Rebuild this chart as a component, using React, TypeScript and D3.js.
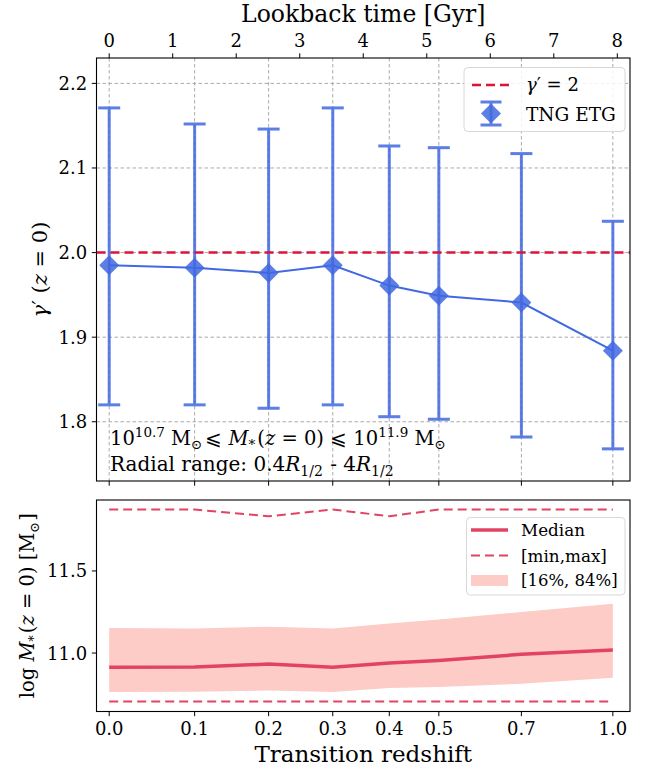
import React from "react";
import * as d3 from "d3";

const REDSHIFT_LABELS = ["0.0", "0.1", "0.2", "0.3", "0.4", "0.5", "0.7", "1.0"];
const LOOKBACK = [0, 1.345, 2.51, 3.52, 4.41, 5.19, 6.49, 7.93];
const LOOKBACK_TICKS = [0, 1, 2, 3, 4, 5, 6, 7, 8];
const GAMMA = [1.985, 1.982, 1.976, 1.985, 1.961, 1.949, 1.941, 1.884];
const GAMMA_HI = [2.171, 2.152, 2.146, 2.171, 2.126, 2.124, 2.117, 2.037];
const GAMMA_LO = [1.82, 1.82, 1.816, 1.82, 1.806, 1.803, 1.782, 1.768];
const GAMMA_TICKS = [1.8, 1.9, 2.0, 2.1, 2.2];
const MEDIAN = [10.913, 10.915, 10.933, 10.913, 10.939, 10.955, 10.992, 11.018];
const P16 = [10.762, 10.764, 10.772, 10.762, 10.787, 10.793, 10.813, 10.85];
const P84 = [11.152, 11.15, 11.16, 11.15, 11.18, 11.205, 11.25, 11.3];
const MMAX = [11.874, 11.874, 11.833, 11.874, 11.833, 11.874, 11.874, 11.874];
const MMIN = [10.705, 10.705, 10.705, 10.705, 10.705, 10.705, 10.705, 10.705];
const MASS_TICKS = [11.0, 11.5];

const SERIF = "'DejaVu Serif', serif";
const BLUE = "#4169e1";
const RED = "crimson";
const PINK = "#e34363";
const BAND = "#fdccc6";
const W = 656;
const H = 767;

export default function App() {
  const L = 96.5, R = 630;
  const T1 = 58, B1 = 481, T2 = 500, B2 = 711.5;
  const x = d3.scaleLinear().domain([-0.2, 8.2]).range([L, R]);
  const yT = d3.scaleLinear().domain([1.73, 2.23]).range([B1, T1]);
  const yB = d3.scaleLinear().domain([10.644, 11.932]).range([B2, T2]);

  const gLine = d3.line<number>().x((_, i) => x(LOOKBACK[i])).y((d) => yT(d));
  const mLine = d3.line<number>().x((_, i) => x(LOOKBACK[i])).y((d) => yB(d));
  const band = d3
    .area<number>()
    .x((_, i) => x(LOOKBACK[i]))
    .y0((_, i) => yB(P16[i]))
    .y1((d) => yB(d));

  const diamond = (cx: number, cy: number, r: number) =>
    `M${cx},${cy - r}L${cx + r},${cy}L${cx},${cy + r}L${cx - r},${cy}Z`;

  const cap = 11;
  const TK = 4.7;
  const TF = 18;

  return (
    <svg
      width={W}
      height={H}
      style={{ position: "absolute", left: 0, top: 0, background: "white" }}
      fontFamily={SERIF}
    >
      <rect x={0} y={0} width={W} height={H} fill="white" />
      {/* ===== Top panel ===== */}
      <g>
        {LOOKBACK.map((t, i) => (
          <line key={"gv" + i} x1={x(t)} x2={x(t)} y1={T1} y2={B1} stroke="#a0a0a0" strokeWidth={0.9} strokeDasharray="3.5,2.5" />
        ))}
        {GAMMA_TICKS.map((g, i) => (
          <line key={"gh" + i} x1={L} x2={R} y1={yT(g)} y2={yT(g)} stroke="#a0a0a0" strokeWidth={0.9} strokeDasharray="3.5,2.5" />
        ))}
        {LOOKBACK.map((t, i) => (
          <g key={"eb" + i} stroke={BLUE} strokeWidth={3} opacity={0.85}>
            <line x1={x(t)} x2={x(t)} y1={yT(GAMMA_LO[i])} y2={yT(GAMMA_HI[i])} />
            <line x1={x(t) - cap} x2={x(t) + cap} y1={yT(GAMMA_LO[i])} y2={yT(GAMMA_LO[i])} />
            <line x1={x(t) - cap} x2={x(t) + cap} y1={yT(GAMMA_HI[i])} y2={yT(GAMMA_HI[i])} />
          </g>
        ))}
        <path d={gLine(GAMMA) || ""} fill="none" stroke={BLUE} strokeWidth={2} />
        {LOOKBACK.map((t, i) => (
          <path key={"mk" + i} d={diamond(x(t), yT(GAMMA[i]), 10)} fill={BLUE} opacity={0.85} />
        ))}
        <line x1={L} x2={R} y1={yT(2)} y2={yT(2)} stroke={RED} strokeWidth={2.5} strokeDasharray="9,5" />
        <rect x={L} y={T1} width={R - L} height={B1 - T1} fill="none" stroke="black" strokeWidth={1.1} />
        {LOOKBACK_TICKS.map((t) => (
          <g key={"tt" + t}>
            <line x1={x(t)} x2={x(t)} y1={T1} y2={T1 - TK} stroke="black" strokeWidth={1} />
            <text x={x(t)} y={46.5} textAnchor="middle" fontSize={TF}>{t}</text>
          </g>
        ))}
        <text x={(L + R) / 2} y={22} textAnchor="middle" fontSize={23.5}>Lookback time [Gyr]</text>
        {LOOKBACK.map((t, i) => (
          <line key={"tb" + i} x1={x(t)} x2={x(t)} y1={B1} y2={B1 + TK} stroke="black" strokeWidth={1} />
        ))}
        {GAMMA_TICKS.map((g) => (
          <g key={"ly" + g}>
            <line x1={L} x2={L - TK} y1={yT(g)} y2={yT(g)} stroke="black" strokeWidth={1} />
            <text x={L - 9.4} y={yT(g)} dy="0.36em" textAnchor="end" fontSize={TF}>{g.toFixed(1)}</text>
          </g>
        ))}
        <text transform={`translate(47,${(T1 + B1) / 2}) rotate(-90)`} textAnchor="middle" fontSize={21}>
          <tspan fontStyle="italic">γ</tspan>
          <tspan>′ (</tspan>
          <tspan fontStyle="italic">z</tspan>
          <tspan> = 0)</tspan>
        </text>
        {/* annotation */}
        <text x={110} y={445} fontSize={19.5}>
          <tspan>10</tspan>
          <tspan fontSize={13.5} dy={-8}>10.7</tspan>
          <tspan dy={8}> M</tspan>
          <tspan fontSize={13.5} dy={3.5}>⊙</tspan>
          <tspan dy={-3.5} dx={3}>⩽ </tspan>
          <tspan fontStyle="italic">M</tspan>
          <tspan fontSize={13.5} dy={3.5}>*</tspan>
          <tspan dy={-3.5} dx={2}>(</tspan>
          <tspan fontStyle="italic">z</tspan>
          <tspan> = 0) ⩽ 10</tspan>
          <tspan fontSize={13.5} dy={-8}>11.9</tspan>
          <tspan dy={8}> M</tspan>
          <tspan fontSize={13.5} dy={3.5}>⊙</tspan>
        </text>
        <text x={110} y={470.5} fontSize={20}>
          <tspan>Radial range: 0.4</tspan>
          <tspan fontStyle="italic">R</tspan>
          <tspan fontSize={14} dy={5}>1/2</tspan>
          <tspan dy={-5} dx={1}> - 4</tspan>
          <tspan fontStyle="italic">R</tspan>
          <tspan fontSize={14} dy={5}>1/2</tspan>
        </text>
        {/* legend */}
        <g>
          <rect x={464} y={67.5} width={161} height={64} rx={4} fill="white" fillOpacity={0.85} stroke="#d8d8d8" strokeWidth={1} />
          <line x1={472} x2={510} y1={85} y2={85} stroke={RED} strokeWidth={2.5} strokeDasharray="9,5" />
          <text x={526} y={85} dy="0.36em" fontSize={18}>
            <tspan fontStyle="italic">γ</tspan>
            <tspan>′ = 2</tspan>
          </text>
          <g stroke={BLUE} strokeWidth={3} opacity={0.85}>
            <line x1={491} x2={491} y1={102} y2={125} />
            <line x1={480.5} x2={501.5} y1={102} y2={102} />
            <line x1={480.5} x2={501.5} y1={125} y2={125} />
          </g>
          <path d={diamond(491, 113.5, 10)} fill={BLUE} opacity={0.85} />
          <text x={526} y={114} dy="0.36em" fontSize={18.5}>TNG ETG</text>
        </g>
      </g>

      {/* ===== Bottom panel ===== */}
      <g>
        <path d={band(P84) || ""} fill={BAND} />
        <path d={mLine(MEDIAN) || ""} fill="none" stroke={PINK} strokeWidth={3.5} />
        <path d={mLine(MMAX) || ""} fill="none" stroke={PINK} strokeWidth={2} strokeDasharray="9,5" />
        <path d={mLine(MMIN) || ""} fill="none" stroke={PINK} strokeWidth={2} strokeDasharray="9,5" />
        <rect x={L} y={T2} width={R - L} height={B2 - T2} fill="none" stroke="black" strokeWidth={1.1} />
        {LOOKBACK.map((t, i) => (
          <g key={"bx" + i}>
            <line x1={x(t)} x2={x(t)} y1={B2} y2={B2 + TK} stroke="black" strokeWidth={1} />
            <text x={x(t)} y={735} textAnchor="middle" fontSize={TF}>{REDSHIFT_LABELS[i]}</text>
          </g>
        ))}
        {MASS_TICKS.map((m) => (
          <g key={"my" + m}>
            <line x1={L} x2={L - TK} y1={yB(m)} y2={yB(m)} stroke="black" strokeWidth={1} />
            <text x={L - 9.4} y={yB(m)} dy="0.36em" textAnchor="end" fontSize={TF}>{m.toFixed(1)}</text>
          </g>
        ))}
        <text x={(L + R) / 2} y={761.5} textAnchor="middle" fontSize={23}>Transition redshift</text>
        <text transform={`translate(34,${(T2 + B2) / 2}) rotate(-90)`} textAnchor="middle" fontSize={19.5}>
          <tspan>log </tspan>
          <tspan fontStyle="italic">M</tspan>
          <tspan fontSize={13} dy={4}>*</tspan>
          <tspan dy={-4} dx={2}>(</tspan>
          <tspan fontStyle="italic">z</tspan>
          <tspan> = 0) [M</tspan>
          <tspan fontSize={13} dy={5}>⊙</tspan>
          <tspan dy={-5} dx={1}>]</tspan>
        </text>
        <g>
          <rect x={466.5} y={517.5} width={158.5} height={77.5} rx={4} fill="white" fillOpacity={0.85} stroke="#d8d8d8" strokeWidth={1} />
          <line x1={471} x2={508} y1={530} y2={530} stroke={PINK} strokeWidth={3.5} />
          <text x={521} y={530} dy="0.36em" fontSize={16.8}>Median</text>
          <line x1={471} x2={508} y1={555.5} y2={555.5} stroke={PINK} strokeWidth={2} strokeDasharray="9,5" />
          <text x={521} y={555.5} dy="0.36em" fontSize={16.8}>[min,max]</text>
          <rect x={471} y={575} width={37} height={11} fill={BAND} />
          <text x={521} y={580.5} dy="0.36em" fontSize={16.5}>[16%, 84%]</text>
        </g>
      </g>
    </svg>
  );
}
